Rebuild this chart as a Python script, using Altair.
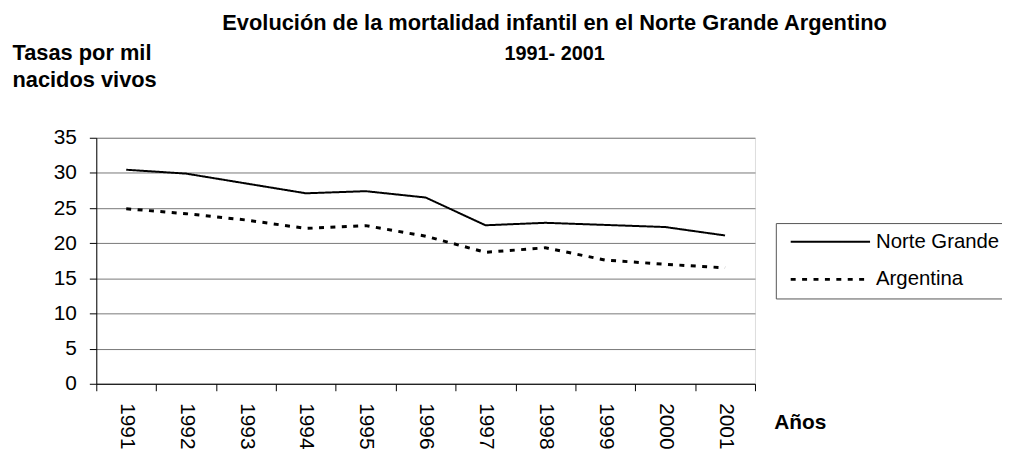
import altair as alt
import pandas as pd

years = ["1991", "1992", "1993", "1994", "1995", "1996", "1997", "1998", "1999", "2000", "2001"]
norte_grande = [30.45, 29.9, 28.5, 27.1, 27.4, 26.5, 22.55, 22.9, 22.6, 22.3, 21.1]
argentina = [24.9, 24.2, 23.3, 22.1, 22.5, 21.0, 18.7, 19.35, 17.6, 17.0, 16.5]
series = ["Norte Grande", "Argentina"]
title_line1 = "Evolución de la mortalidad infantil en el Norte Grande Argentino"
title_line2 = "1991- 2001"
y_title = ["Tasas por mil", "nacidos vivos"]
x_title = "Años"
y_ticks = [0, 5, 10, 15, 20, 25, 30, 35]

rows = []
for name, vals in zip(series, [norte_grande, argentina]):
    for yr, v in zip(years, vals):
        rows.append({"year": yr, "serie": name, "value": v})
df = pd.DataFrame(rows)

FONT = "Liberation Sans"
W, H = 664, 248

leg = alt.Legend(
    orient="none", legendX=685, legendY=86, title=None,
    symbolType="M-1.5,0H30.5", symbolSize=25, symbolStrokeWidth=2.5,
    labelOffset=72, labelFontSize=20.5, labelFont=FONT, labelColor="black",
    padding=8.5, rowPadding=17, strokeColor="#555", fillColor="white",
    labelLimit=400,
)

lines = alt.Chart(df).mark_line().encode(
    x=alt.X("year:O", bandPosition=0.5,
            scale=alt.Scale(type="band", paddingInner=0, paddingOuter=0),
            axis=alt.Axis(title=x_title, titleX=683, titleY=45, titleAlign="left",
                          titleBaseline="alphabetic", titleAngle=0, titleFont=FONT,
                          titleFontSize=21, titleFontWeight="bold", titleColor="black",
                          labelAngle=90, labelAlign="left", labelBaseline="middle",
                          labelFont=FONT, labelFontSize=21, labelColor="black",
                          labelPadding=12, tickSize=7, tickColor="black",
                          domainColor="black", tickBand="extent", grid=False)),
    y=alt.Y("value:Q", scale=alt.Scale(domain=[0, 35], nice=False),
            axis=alt.Axis(title=y_title, titleX=-85, titleY=-79, titleAngle=0,
                          titleAlign="left", titleBaseline="alphabetic",
                          titleLineHeight=27, titleFont=FONT, titleFontSize=22,
                          titleFontWeight="bold", titleColor="black",
                          values=y_ticks, labelFont=FONT, labelFontSize=21,
                          labelColor="black", labelPadding=13, tickSize=7,
                          tickColor="black", domainColor="black",
                          grid=True, gridColor="#777", gridWidth=1)),
    color=alt.Color("serie:N", scale=alt.Scale(domain=series, range=["black", "black"]),
                    legend=leg),
    strokeDash=alt.StrokeDash("serie:N", scale=alt.Scale(domain=series, range=[[1, 0], [5, 6.5]]),
                              legend=leg),
    strokeWidth=alt.StrokeWidth("serie:N", scale=alt.Scale(domain=series, range=[2, 3]),
                                legend=None),
)

one = pd.DataFrame({"t": [0]})
title1 = alt.Chart(one).mark_text(
    font=FONT, fontSize=22, fontWeight="bold", align="center",
    baseline="alphabetic", color="black",
).encode(x=alt.value(462), y=alt.value(-109), text=alt.value(title_line1))
title2 = alt.Chart(one).mark_text(
    font=FONT, fontSize=20, fontWeight="bold", align="center",
    baseline="alphabetic", color="black",
).encode(x=alt.value(462), y=alt.value(-78), text=alt.value(title_line2))

chart = alt.layer(lines, title1, title2).properties(
    width=W, height=H,
    autosize=alt.AutoSizeParams(type="none"),
    padding={"left": 89, "top": 129, "right": 249, "bottom": 72},
).configure_view(stroke="#999", strokeWidth=2).configure(background="white")

chart.save("out.html", embed_options={"renderer": "svg", "actions": False})
